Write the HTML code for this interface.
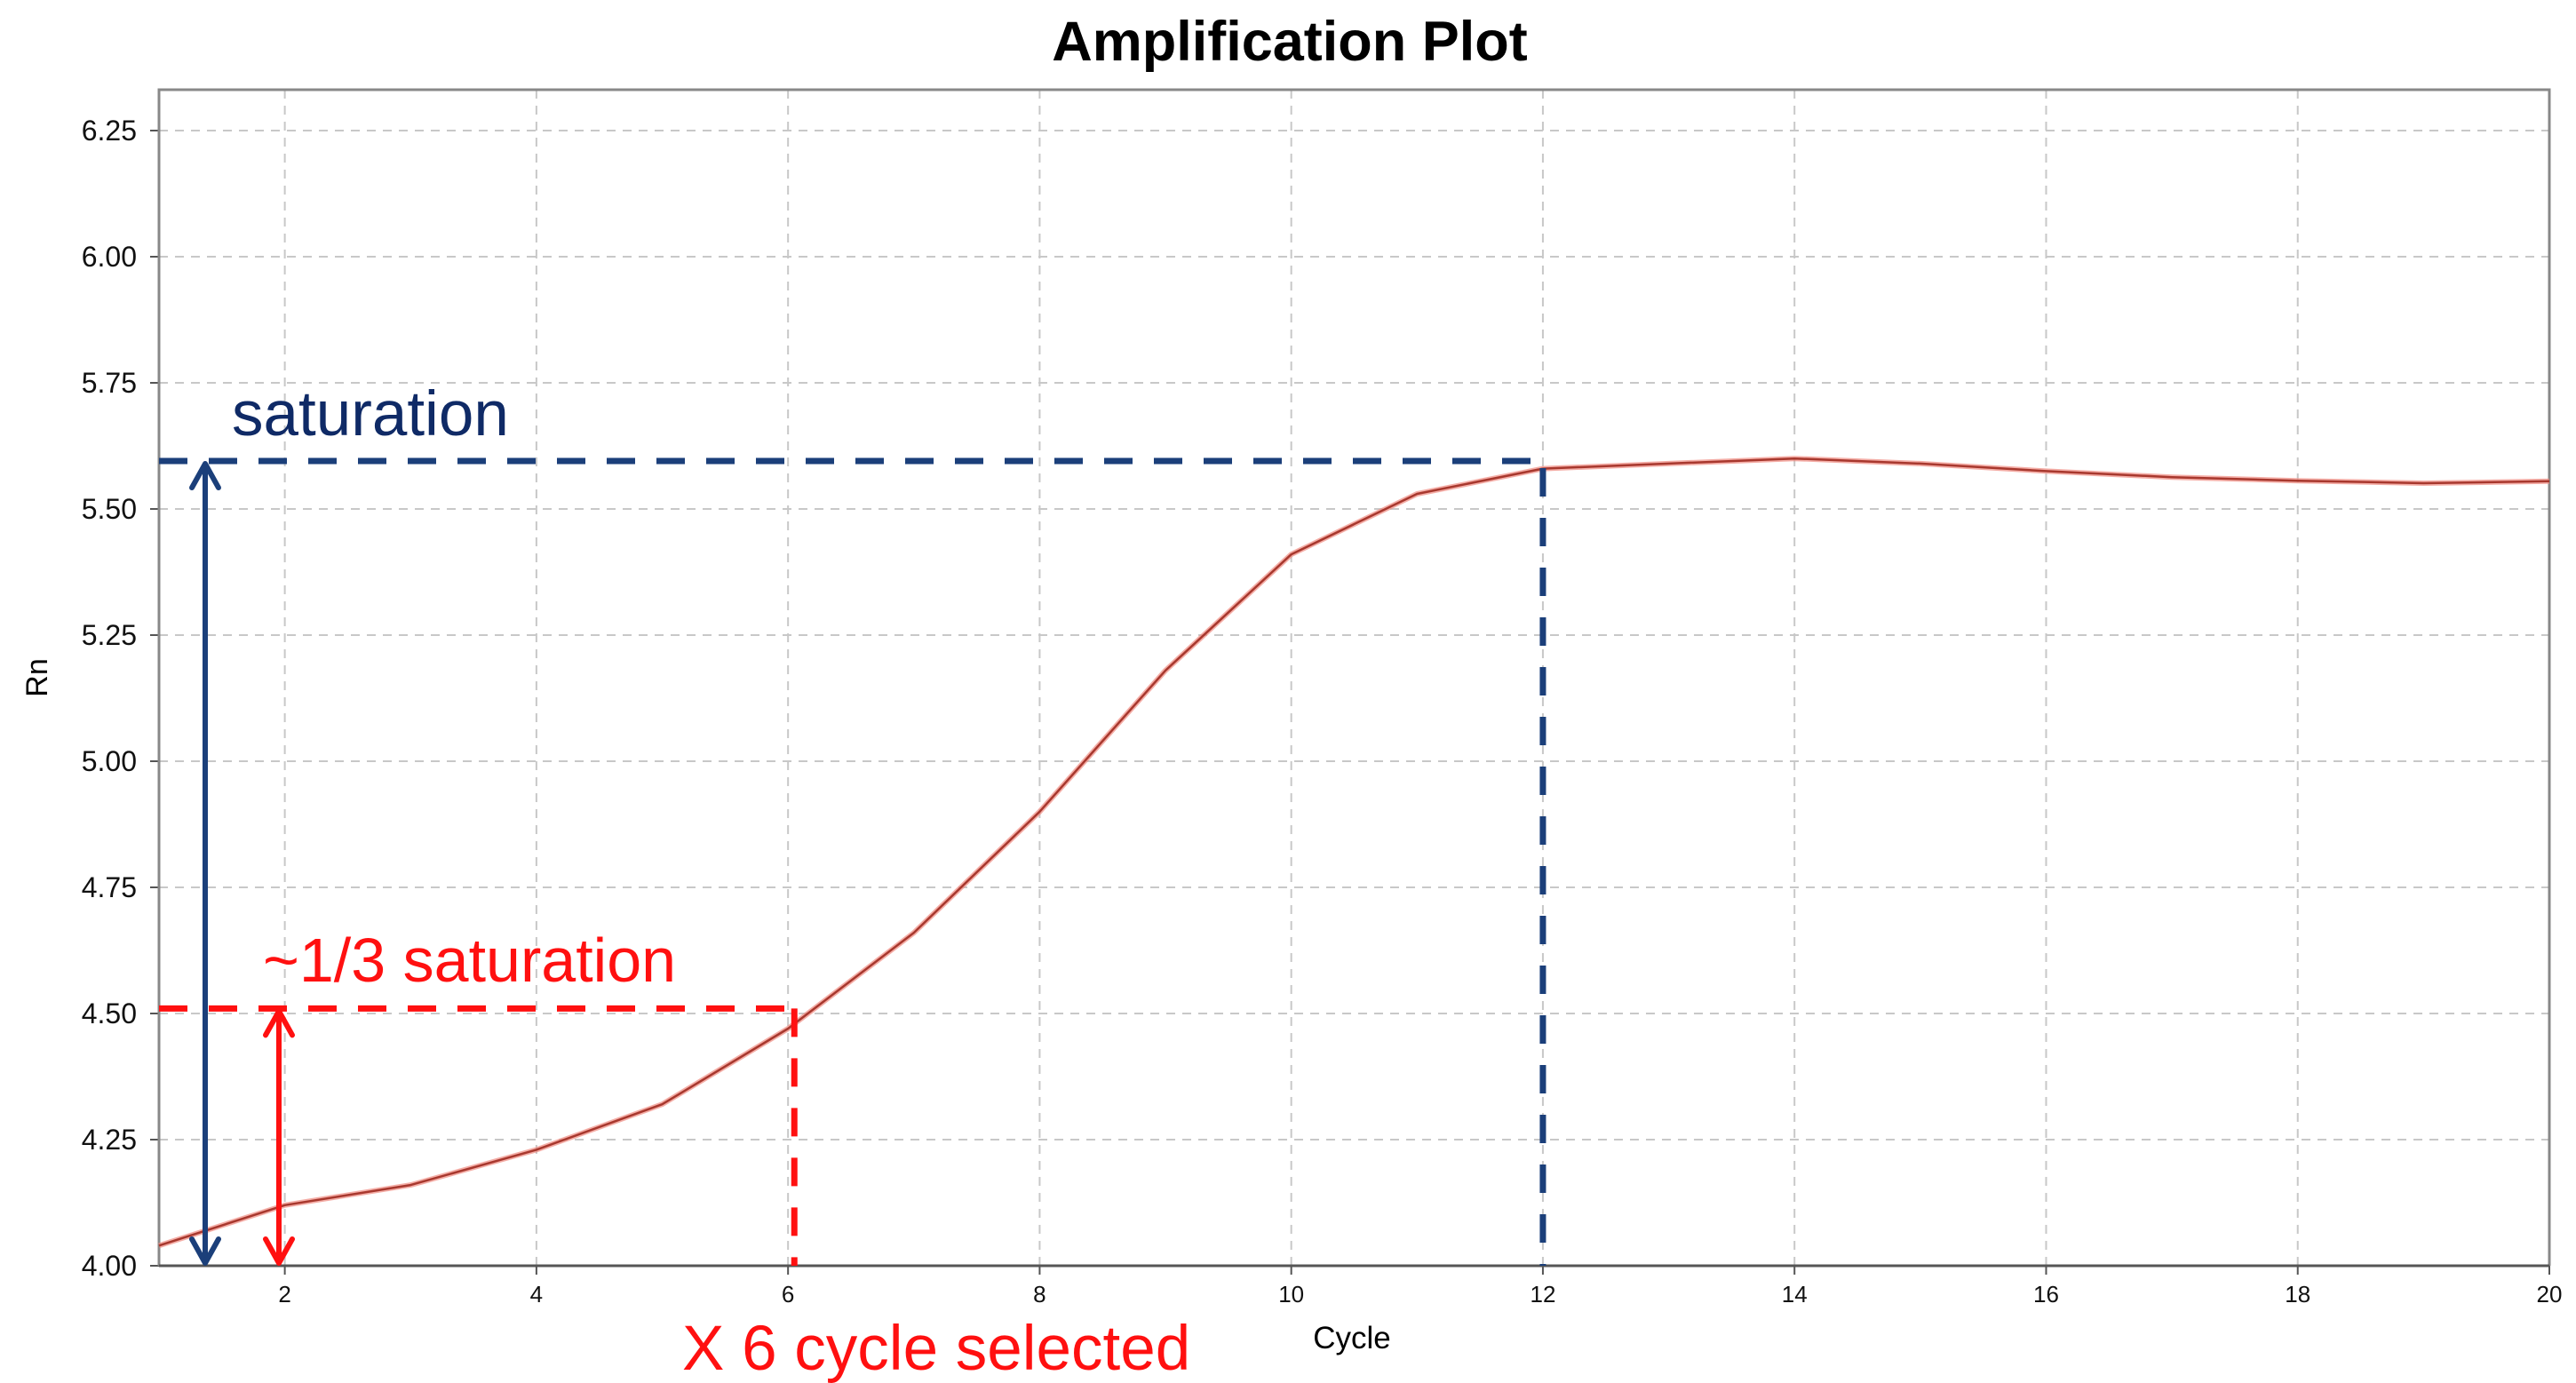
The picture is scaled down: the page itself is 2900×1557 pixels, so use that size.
<!DOCTYPE html>
<html><head><meta charset="utf-8">
<style>
html,body{margin:0;padding:0;background:#fff;}
svg{display:block;font-family:"Liberation Sans",Arial,sans-serif;}
</style></head>
<body>
<svg id="chart" width="2900" height="1557" viewBox="0 0 2900 1557" xmlns="http://www.w3.org/2000/svg">
<rect x="0" y="0" width="2900" height="1557" fill="#fff"/>
<text x="1452" y="68" font-size="63" font-weight="bold" text-anchor="middle" fill="#000">Amplification Plot</text>
<g id="grid"></g>
<g id="axes"></g>
<g id="series"></g>
<g id="annot"></g>
<text x="1522" y="1518" font-size="35" text-anchor="middle" fill="#000">Cycle</text>
<text x="0" y="0" font-size="34" text-anchor="middle" fill="#000" transform="translate(53,763) rotate(-90)">Rn</text>
</svg>
<script>
const cycles = [1,2,3,4,5,6,7,8,9,10,11,12,13,14,15,16,17,18,19,20];
const rnValues = [4.04,4.12,4.16,4.23,4.32,4.47,4.66,4.90,5.18,5.41,5.53,5.58,5.59,5.60,5.59,5.575,5.563,5.556,5.551,5.555];
const yTicks = [4.00,4.25,4.50,4.75,5.00,5.25,5.50,5.75,6.00,6.25];
const xTicks = [2,4,6,8,10,12,14,16,18,20];
const saturationLevel = 5.595;
const saturationCycle = 12;
const thirdLevel = 4.51;
const selectedCycle = 6.05;

const NS = "http://www.w3.org/2000/svg";
const L = 179, R = 2870, T = 101, B = 1425;
const xMin = 1, xMax = 20, yMin = 4.0;
function xs(c){ return L + (c - xMin) / (xMax - xMin) * (R - L); }
function ys(v){ return B - (v - yMin) * 568; }
function mk(tag, attrs, parent){
  const e = document.createElementNS(NS, tag);
  for (const k in attrs) e.setAttribute(k, attrs[k]);
  parent.appendChild(e);
  return e;
}
const grid = document.getElementById('grid');
const axes = document.getElementById('axes');
const series = document.getElementById('series');
const annot = document.getElementById('annot');

yTicks.forEach(v => {
  const y = ys(v);
  const g = mk('line', {x1:L, x2:R, y1:y, y2:y, stroke:'#c8c8c8', 'stroke-width':2, 'stroke-dasharray':'10 8'}, grid);
  
  
  const t = mk('line', {x1:L-10, x2:L, y1:y, y2:y, stroke:'#555', 'stroke-width':2}, axes);
  
  
  const lb = mk('text', {x:154, y:y+11, 'font-size':32, 'text-anchor':'end', fill:'#111'}, axes);
  lb.textContent = v.toFixed(2);
  
  
});
xTicks.forEach(c => {
  const x = xs(c);
  const g = mk('line', {x1:x, x2:x, y1:T, y2:B, stroke:'#c8c8c8', 'stroke-width':2, 'stroke-dasharray':'10 8'}, grid);
  
  
  const t = mk('line', {x1:x, x2:x, y1:B, y2:B+10, stroke:'#555', 'stroke-width':2}, axes);
  
  
  const lb = mk('text', {x:x, y:1466, 'font-size':26, 'text-anchor':'middle', fill:'#111'}, axes);
  lb.textContent = String(c);
  
  
});
const frame = mk('path', {d:`M${L},${B} L${L},${T} L${R},${T} L${R},${B}`, fill:'none', stroke:'#888', 'stroke-width':3}, axes);


const xAxis = mk('line', {x1:L, x2:R, y1:B, y2:B, stroke:'#555', 'stroke-width':3}, axes);



const pts = cycles.map((c,i) => xs(c).toFixed(1) + ',' + ys(rnValues[i]).toFixed(1)).join(' ');
const halo = mk('polyline', {points:pts, fill:'none', stroke:'#f08a80', 'stroke-width':6, 'stroke-linejoin':'round', opacity:0.7}, series);


const line = mk('polyline', {points:pts, fill:'none', stroke:'#a8382e', 'stroke-width':2.5, 'stroke-linejoin':'round'}, series);



const navy = '#1b3f7a', red = '#ff1010';
const sy = ys(saturationLevel), sx = xs(saturationCycle);
const h1 = mk('line', {x1:L, x2:sx, y1:sy, y2:sy, stroke:navy, 'stroke-width':7, 'stroke-dasharray':'32 24'}, annot);


const v1 = mk('line', {x1:sx, x2:sx, y1:sy+8, y2:B, stroke:navy, 'stroke-width':7, 'stroke-dasharray':'32 24'}, annot);


const ty = ys(thirdLevel), tx = xs(selectedCycle);
const h2 = mk('line', {x1:L, x2:tx, y1:ty, y2:ty, stroke:red, 'stroke-width':7, 'stroke-dasharray':'32 24'}, annot);


const v2 = mk('line', {x1:tx, x2:tx, y1:ty, y2:B, stroke:red, 'stroke-width':7, 'stroke-dasharray':'32 24'}, annot);



function dblArrow(x, y1, y2, col, name){
  const g = mk('g', {}, annot);
  
  
  mk('line', {x1:x, x2:x, y1:y1+3, y2:y2-3, stroke:col, 'stroke-width':6}, g);
  mk('polyline', {points:`${x-15},${y1+30} ${x},${y1+3} ${x+15},${y1+30}`, fill:'none', stroke:col, 'stroke-width':6, 'stroke-linecap':'round', 'stroke-linejoin':'round'}, g);
  mk('polyline', {points:`${x-15},${y2-30} ${x},${y2-3} ${x+15},${y2-30}`, fill:'none', stroke:col, 'stroke-width':6, 'stroke-linecap':'round', 'stroke-linejoin':'round'}, g);
}
dblArrow(231, sy, B, navy, 'saturation-arrow');
dblArrow(314, ty, B, red, 'third-saturation-arrow');

const t1 = mk('text', {x:261, y:490, 'font-size':71, fill:'#0f2a66'}, annot);
t1.textContent = 'saturation';


const t2 = mk('text', {x:296, y:1105, 'font-size':70, fill:red}, annot);
t2.textContent = '~1/3 saturation';


const t3 = mk('text', {x:768, y:1542, 'font-size':71, fill:red}, annot);
t3.textContent = 'X 6 cycle selected';


</script>
</body></html>
